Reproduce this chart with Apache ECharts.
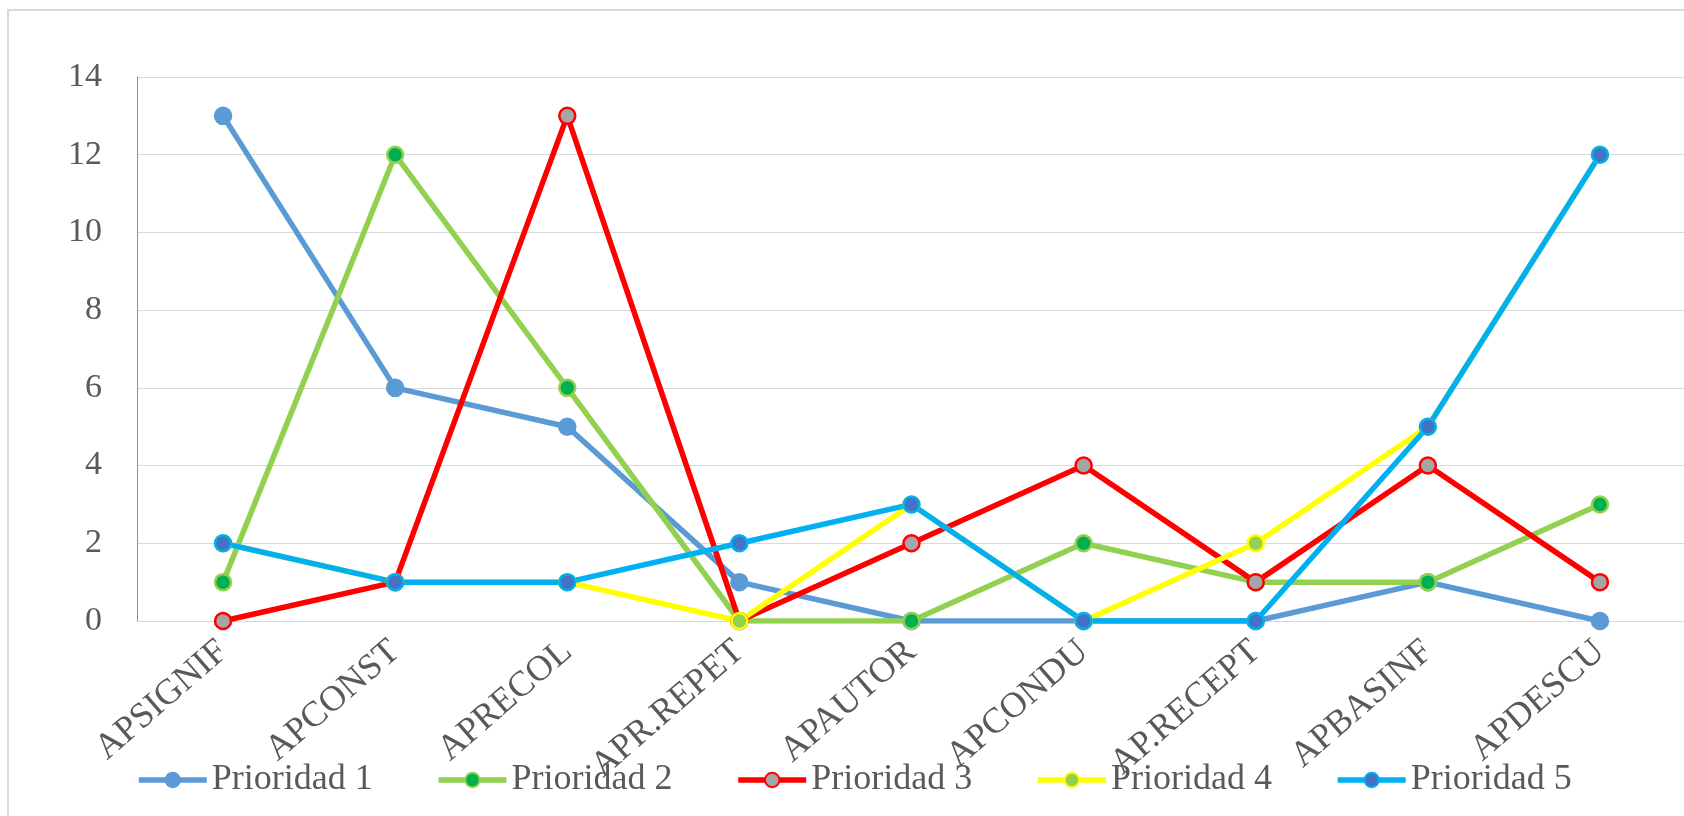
<!DOCTYPE html>
<html>
<head>
<meta charset="utf-8">
<script src="https://cdn.jsdelivr.net/npm/echarts@6/dist/echarts.min.js"></script>
<style>
  html, body { margin: 0; padding: 0; background: #fff; }
  #chart { width: 1684px; height: 816px; }
</style>
</head>
<body>
<div id="chart"></div>
<script>
var categories = ['APSIGNIF', 'APCONST', 'APRECOL', 'APR.REPET', 'APAUTOR', 'APCONDU', 'AP.RECEPT', 'APBASINF', 'APDESCU'];
var prioridad1 = [13, 6, 5, 1, 0, 0, 0, 1, 0];
var prioridad2 = [1, 12, 6, 0, 0, 2, 1, 1, 3];
var prioridad3 = [0, 1, 13, 0, 2, 4, 1, 4, 1];
var prioridad4 = [2, 1, 1, 0, 3, 0, 2, 5, 12];
var prioridad5 = [2, 1, 1, 2, 3, 0, 0, 5, 12];
var seriesNames = ['Prioridad 1', 'Prioridad 2', 'Prioridad 3', 'Prioridad 4', 'Prioridad 5'];

var chart = echarts.init(document.getElementById('chart'));
var font = 'Liberation Serif, Times New Roman, serif';

// line colour, marker fill
var styles = [
  ['#5B9BD5', '#5B9BD5'],
  ['#92D050', '#00B050'],
  ['#FF0000', '#A5A5A5'],
  ['#FFFF00', '#92D050'],
  ['#00B0F0', '#4472C4']
];
var allData = [prioridad1, prioridad2, prioridad3, prioridad4, prioridad5];

var series = allData.map(function (d, i) {
  return {
    name: seriesNames[i],
    type: 'line',
    data: d,
    symbol: 'circle',
    symbolSize: 16,
    lineStyle: { color: styles[i][0], width: 5.5 },
    itemStyle: { color: styles[i][1], borderColor: styles[i][0], borderWidth: 2.5 },
    emphasis: { disabled: true }
  };
});

var option = {
  animation: false,
  backgroundColor: '#fff',
  graphic: [{
    type: 'rect',
    shape: { x: 8, y: 10, width: 1700, height: 830 },
    style: { fill: 'none', stroke: '#d9d9d9', lineWidth: 2 },
    silent: true
  }],
  grid: {
    left: 137, top: 77, width: 1549, height: 544,
    outerBoundsMode: 'none', containLabel: false
  },
  legend: {
    left: 131, top: 757,
    itemWidth: 68, itemHeight: 18, itemGap: 63,
    lineStyle: { width: 5.5 },
    textStyle: { fontFamily: font, fontSize: 36, color: '#595959' },
    data: seriesNames
  },
  xAxis: {
    type: 'category',
    data: categories,
    axisLine: { lineStyle: { color: '#d9d9d9', width: 1 } },
    axisTick: { show: false },
    axisLabel: {
      interval: 0, rotate: 41, margin: 26,
      fontFamily: font, fontSize: 36, color: '#595959'
    }
  },
  yAxis: {
    type: 'value',
    min: 0, max: 14, interval: 2,
    axisLine: { show: true, lineStyle: { color: '#8c8c8c', width: 1 } },
    axisTick: { show: false },
    splitLine: { lineStyle: { color: '#d9d9d9', width: 1 } },
    axisLabel: { margin: 35, fontFamily: font, fontSize: 34, color: '#595959' }
  },
  series: series
};

chart.setOption(option);
</script>
</body>
</html>
